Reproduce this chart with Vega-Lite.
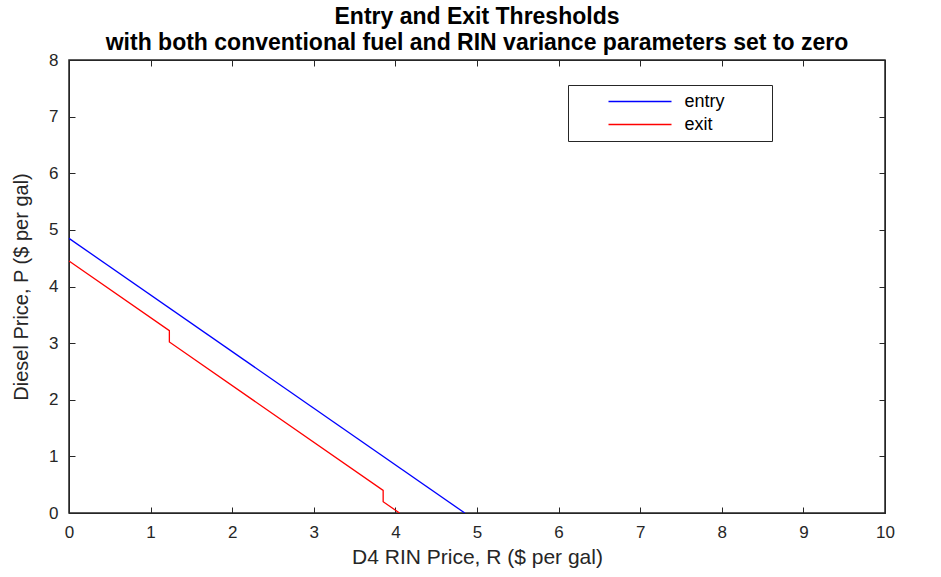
{
  "$schema": "https://vega.github.io/schema/vega-lite/v6.json",
  "width": 816,
  "height": 453,
  "autosize": {"type": "none"},
  "padding": {"left": 69, "top": 60, "right": 56, "bottom": 64},
  "background": "white",
  "title": {
    "text": ["Entry and Exit Thresholds", "with both conventional fuel and RIN variance parameters set to zero"],
    "font": "Liberation Sans",
    "fontSize": 23,
    "fontWeight": "bold",
    "lineHeight": 26,
    "anchor": "middle",
    "frame": "group",
    "offset": -4,
    "color": "black"
  },
  "config": {
    "view": {"stroke": "#262626", "strokeWidth": 1.5},
    "axis": {
      "domainColor": "#262626",
      "tickColor": "#262626",
      "tickSize": -6,
      "grid": false,
      "labelFlush": false,
      "labelFont": "Liberation Sans",
      "labelFontSize": 17,
      "labelColor": "#262626",
      "titleFont": "Liberation Sans",
      "titleFontSize": 20,
      "titleFontWeight": "normal",
      "titleColor": "#262626"
    }
  },
  "resolve": {"axis": {"x": "independent", "y": "independent"}},
  "data": {
    "values": [
      {"series": "entry", "i": 0, "R": 0, "P": 4.85},
      {"series": "entry", "i": 1, "R": 4.85, "P": 0},
      {"series": "exit", "i": 0, "R": 0, "P": 4.45},
      {"series": "exit", "i": 1, "R": 1.23, "P": 3.22},
      {"series": "exit", "i": 2, "R": 1.23, "P": 3.02},
      {"series": "exit", "i": 3, "R": 3.85, "P": 0.4},
      {"series": "exit", "i": 4, "R": 3.85, "P": 0.2},
      {"series": "exit", "i": 5, "R": 4.05, "P": 0}
    ]
  },
  "layer": [
    {
      "mark": {"type": "line", "strokeWidth": 1.3, "clip": true},
      "encoding": {
        "x": {
          "field": "R", "type": "quantitative",
          "scale": {"domain": [0, 10], "nice": false},
          "axis": {"orient": "bottom", "values": [0,1,2,3,4,5,6,7,8,9,10], "title": "D4 RIN Price, R ($ per gal)", "titleFontSize": 21, "labelPadding": 17, "titlePadding": 6}
        },
        "y": {
          "field": "P", "type": "quantitative",
          "scale": {"domain": [0, 8], "nice": false},
          "axis": {"orient": "left", "values": [0,1,2,3,4,5,6,7,8], "title": "Diesel Price, P ($ per gal)", "labelPadding": 17, "titlePadding": 17}
        },
        "color": {
          "field": "series", "type": "nominal",
          "scale": {"domain": ["entry", "exit"], "range": ["#0000ff", "#ff0000"]},
          "legend": {
            "title": null,
            "orient": "none",
            "legendX": 499,
            "legendY": 25,
            "strokeColor": "#262626",
            "fillColor": "white",
            "padding": 7.5,
            "symbolType": "stroke",
            "symbolSize": 3969,
            "symbolStrokeWidth": 1.3,
            "symbolOffset": 32,
            "labelOffset": 12,
            "clipHeight": 18,
            "labelFont": "Liberation Sans",
            "labelFontSize": 18,
            "labelColor": "black",
            "labelExpr": "datum.label + '\u2800\u2800\u2800'",
            "rowPadding": 5
          }
        },
        "order": {"field": "i", "type": "quantitative"}
      }
    },
    {
      "mark": {"type": "line", "opacity": 0},
      "encoding": {
        "x": {
          "field": "R", "type": "quantitative",
          "axis": {"orient": "top", "values": [0,1,2,3,4,5,6,7,8,9,10], "labels": false, "title": null}
        },
        "y": {
          "field": "P", "type": "quantitative",
          "axis": {"orient": "right", "values": [0,1,2,3,4,5,6,7,8], "labels": false, "title": null}
        },
        "detail": {"field": "series"}
      }
    }
  ]
}
